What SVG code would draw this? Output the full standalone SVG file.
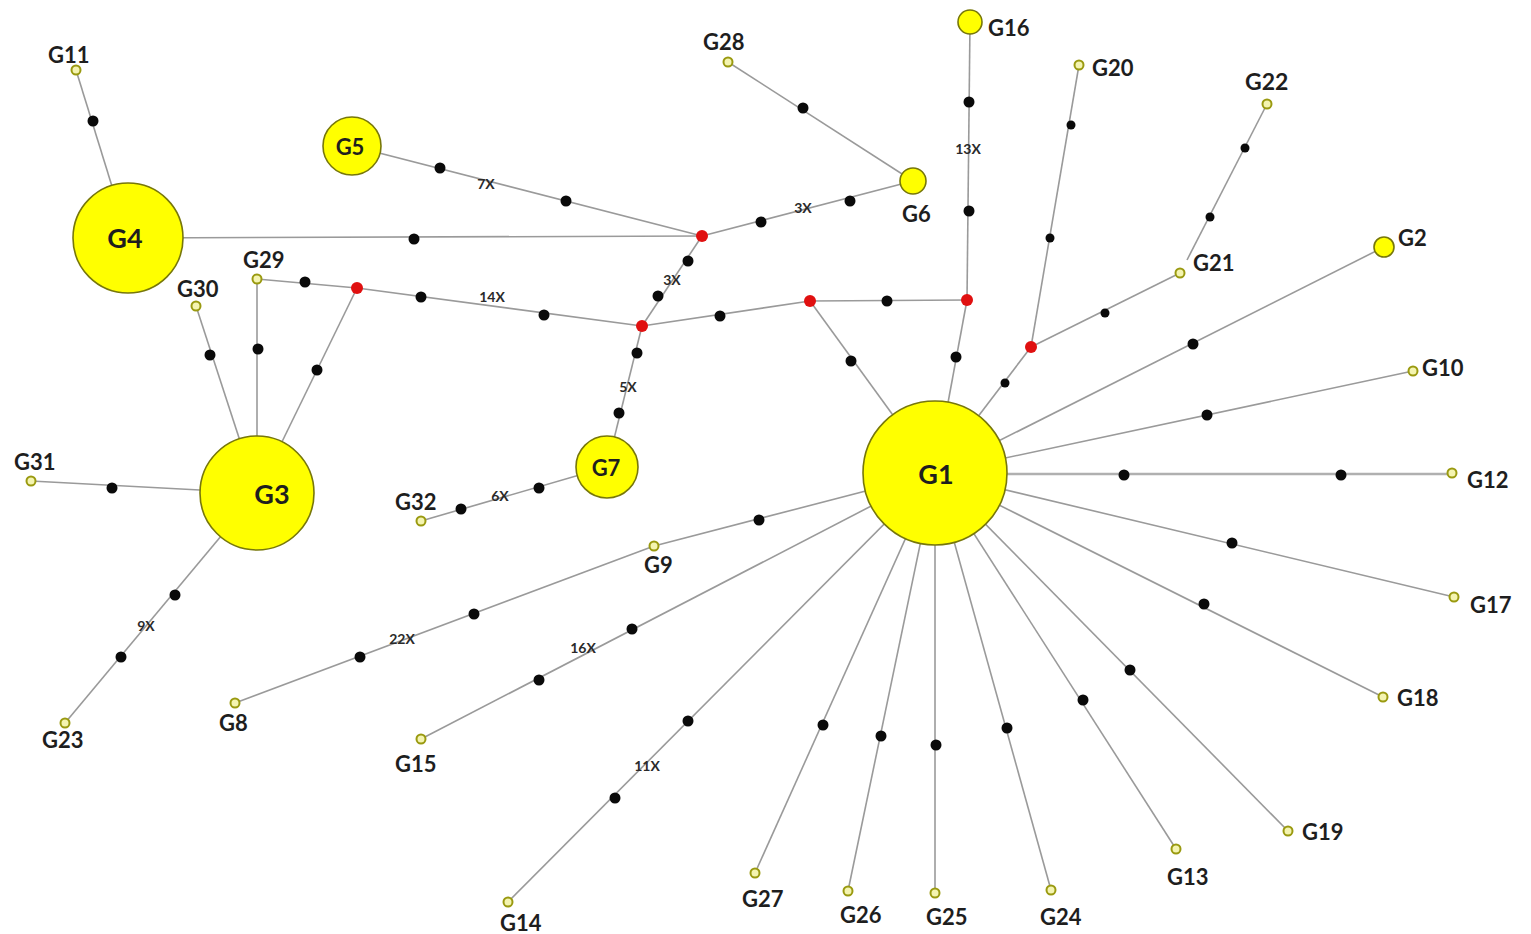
<svg xmlns="http://www.w3.org/2000/svg" width="1531" height="934" viewBox="0 0 1531 934">
  <style>
    .edge { stroke: #9a9a9a; stroke-width: 1.6; fill: none; }
    .hap { fill: #ffff00; stroke: #77770a; stroke-width: 1.6; }
    .tiny { fill: #f4f4b0; stroke: #9a9a10; stroke-width: 2; }
    .mut { fill: #0a0a0a; }
    .med { fill: #e01010; }
    .lbl { font-family: Lato, "Liberation Sans", sans-serif; font-weight: 700; font-size: 22px; fill: #1e1e1e; }
    .big { font-size: 27px; text-anchor: middle; }
    .cnt { font-family: Lato, "Liberation Sans", sans-serif; font-weight: 700; font-size: 14px; fill: #2a2a2a; text-anchor: middle; }
  </style>

  <!-- connectors -->
  <g id="edges">
    <line class="edge" x1="128" y1="238" x2="76" y2="70"/>
    <line class="edge" x1="128" y1="238" x2="702" y2="236"/>
    <line class="edge" x1="352" y1="146" x2="702" y2="236"/>
    <line class="edge" x1="702" y1="236" x2="913" y2="181"/>
    <line class="edge" x1="728" y1="62" x2="913" y2="181"/>
    <line class="edge" x1="702" y1="236" x2="642" y2="326"/>
    <line class="edge" x1="642" y1="326" x2="607" y2="467"/>
    <line class="edge" x1="607" y1="467" x2="421" y2="521"/>
    <line class="edge" x1="257" y1="279" x2="357" y2="288"/>
    <line class="edge" x1="357" y1="288" x2="642" y2="326"/>
    <line class="edge" x1="642" y1="326" x2="810" y2="301"/>
    <line class="edge" x1="810" y1="301" x2="967" y2="300"/>
    <line class="edge" x1="970" y1="22" x2="967" y2="300"/>
    <line class="edge" x1="810" y1="301" x2="935" y2="473"/>
    <line class="edge" x1="967" y1="300" x2="935" y2="473"/>
    <line class="edge" x1="1031" y1="347" x2="935" y2="473"/>
    <line class="edge" x1="1031" y1="347" x2="1079" y2="65"/>
    <line class="edge" x1="1031" y1="347" x2="1180" y2="273"/>
    <line class="edge" x1="1187" y1="260" x2="1267" y2="104"/>
    <!-- haplotype G3 star -->
    <line class="edge" x1="257" y1="493" x2="357" y2="288"/>
    <line class="edge" x1="257" y1="493" x2="257" y2="279"/>
    <line class="edge" x1="257" y1="493" x2="196" y2="306"/>
    <line class="edge" x1="257" y1="493" x2="31" y2="481"/>
    <line class="edge" x1="257" y1="493" x2="65" y2="723"/>
    <!-- haplotype G1 star -->
    <line class="edge" x1="935" y1="473" x2="1384" y2="247"/>
    <line class="edge" x1="935" y1="473" x2="1413" y2="371"/>
    <line class="edge" x1="935" y1="474" x2="1452" y2="474" style="stroke-width:2.4;stroke:#b0b0b0"/>
    <line class="edge" x1="935" y1="473" x2="1454" y2="597"/>
    <line class="edge" x1="935" y1="473" x2="1383" y2="697"/>
    <line class="edge" x1="935" y1="473" x2="1288" y2="831"/>
    <line class="edge" x1="935" y1="473" x2="1176" y2="849"/>
    <line class="edge" x1="935" y1="473" x2="1051" y2="890"/>
    <line class="edge" x1="935" y1="473" x2="935" y2="893"/>
    <line class="edge" x1="935" y1="473" x2="848" y2="891"/>
    <line class="edge" x1="935" y1="473" x2="755" y2="873"/>
    <line class="edge" x1="935" y1="473" x2="508" y2="902"/>
    <line class="edge" x1="935" y1="473" x2="421" y2="739"/>
    <line class="edge" x1="935" y1="473" x2="654" y2="546"/>
    <line class="edge" x1="654" y1="546" x2="235" y2="703"/>
  </g>

  <!-- mutation steps -->
  <g id="mutations">
    <circle class="mut" cx="93" cy="121" r="5.5"/>
    <circle class="mut" cx="414" cy="239" r="5.5"/>
    <circle class="mut" cx="440" cy="168" r="5.5"/>
    <circle class="mut" cx="566" cy="201" r="5.5"/>
    <circle class="mut" cx="761" cy="222" r="5.5"/>
    <circle class="mut" cx="850" cy="201" r="5.5"/>
    <circle class="mut" cx="803" cy="108" r="5.5"/>
    <circle class="mut" cx="969" cy="102" r="5.5"/>
    <circle class="mut" cx="969" cy="211" r="5.5"/>
    <circle class="mut" cx="688" cy="261" r="5.5"/>
    <circle class="mut" cx="658" cy="296" r="5.5"/>
    <circle class="mut" cx="305" cy="282" r="5.5"/>
    <circle class="mut" cx="421" cy="297" r="5.5"/>
    <circle class="mut" cx="544" cy="315" r="5.5"/>
    <circle class="mut" cx="720" cy="316" r="5.5"/>
    <circle class="mut" cx="887" cy="301" r="5.5"/>
    <circle class="mut" cx="851" cy="361" r="5.5"/>
    <circle class="mut" cx="956" cy="357" r="5.5"/>
    <circle class="mut" cx="637" cy="353" r="5.5"/>
    <circle class="mut" cx="619" cy="413" r="5.5"/>
    <circle class="mut" cx="539" cy="488" r="5.5"/>
    <circle class="mut" cx="461" cy="509" r="5.5"/>
    <circle class="mut" cx="317" cy="370" r="5.5"/>
    <circle class="mut" cx="258" cy="349" r="5.5"/>
    <circle class="mut" cx="210" cy="355" r="5.5"/>
    <circle class="mut" cx="112" cy="488" r="5.5"/>
    <circle class="mut" cx="175" cy="595" r="5.5"/>
    <circle class="mut" cx="121" cy="657" r="5.5"/>
    <circle class="mut" cx="1005" cy="383" r="4.5"/>
    <circle class="mut" cx="1050" cy="238" r="4.5"/>
    <circle class="mut" cx="1071" cy="125" r="4.5"/>
    <circle class="mut" cx="1105" cy="313" r="4.5"/>
    <circle class="mut" cx="1210" cy="217" r="4.5"/>
    <circle class="mut" cx="1245" cy="148" r="4.5"/>
    <circle class="mut" cx="1193" cy="344" r="5.5"/>
    <circle class="mut" cx="1207" cy="415" r="5.5"/>
    <circle class="mut" cx="1124" cy="475" r="5.5"/>
    <circle class="mut" cx="1341" cy="475" r="5.5"/>
    <circle class="mut" cx="1232" cy="543" r="5.5"/>
    <circle class="mut" cx="1204" cy="604" r="5.5"/>
    <circle class="mut" cx="1130" cy="670" r="5.5"/>
    <circle class="mut" cx="1083" cy="700" r="5.5"/>
    <circle class="mut" cx="1007" cy="728" r="5.5"/>
    <circle class="mut" cx="936" cy="745" r="5.5"/>
    <circle class="mut" cx="881" cy="736" r="5.5"/>
    <circle class="mut" cx="823" cy="725" r="5.5"/>
    <circle class="mut" cx="688" cy="721" r="5.5"/>
    <circle class="mut" cx="615" cy="798" r="5.5"/>
    <circle class="mut" cx="632" cy="629" r="5.5"/>
    <circle class="mut" cx="539" cy="680" r="5.5"/>
    <circle class="mut" cx="759" cy="520" r="5.5"/>
    <circle class="mut" cx="474" cy="614" r="5.5"/>
    <circle class="mut" cx="360" cy="657" r="5.5"/>
  </g>

  <!-- median vectors -->
  <g id="medians">
    <circle id="mv1" class="med" cx="702" cy="236" r="6"/>
    <circle id="mv2" class="med" cx="357" cy="288" r="6"/>
    <circle id="mv3" class="med" cx="642" cy="326" r="6"/>
    <circle id="mv4" class="med" cx="810" cy="301" r="6"/>
    <circle id="mv5" class="med" cx="967" cy="300" r="6"/>
    <circle id="mv6" class="med" cx="1031" cy="347" r="6"/>
  </g>

  <!-- step counts -->
  <g id="step-counts">
    <text class="cnt" x="486" y="189">7X</text>
    <text class="cnt" x="803" y="213">3X</text>
    <text class="cnt" x="968" y="154">13X</text>
    <text class="cnt" x="672" y="285">3X</text>
    <text class="cnt" x="492" y="302">14X</text>
    <text class="cnt" x="628" y="392">5X</text>
    <text class="cnt" x="500" y="501">6X</text>
    <text class="cnt" x="146" y="631">9X</text>
    <text class="cnt" x="402" y="644">22X</text>
    <text class="cnt" x="583" y="653">16X</text>
    <text class="cnt" x="647" y="771">11X</text>
  </g>

  <!-- haplotypes -->
  <g id="G1"><circle class="hap" cx="935" cy="473" r="72"/><text class="lbl big" x="936" y="484">G1</text></g>
  <g id="G2"><circle class="hap" cx="1384" cy="247" r="10"/><text class="lbl" x="1398" y="246">G2</text></g>
  <g id="G3"><circle class="hap" cx="257" cy="493" r="57"/><text class="lbl big" x="272" y="504">G3</text></g>
  <g id="G4"><circle class="hap" cx="128" cy="238" r="55"/><text class="lbl big" x="125" y="248">G4</text></g>
  <g id="G5"><circle class="hap" cx="352" cy="146" r="29"/><text class="lbl" x="350" y="155" text-anchor="middle">G5</text></g>
  <g id="G6"><circle class="hap" cx="913" cy="181" r="13"/><text class="lbl" x="902" y="222">G6</text></g>
  <g id="G7"><circle class="hap" cx="607" cy="467" r="31"/><text class="lbl" x="606" y="476" text-anchor="middle">G7</text></g>
  <g id="G8"><circle class="tiny" cx="235" cy="703" r="4.5"/><text class="lbl" x="219" y="731">G8</text></g>
  <g id="G9"><circle class="tiny" cx="654" cy="546" r="4.5"/><text class="lbl" x="644" y="573">G9</text></g>
  <g id="G10"><circle class="tiny" cx="1413" cy="371" r="4.5"/><text class="lbl" x="1422" y="376">G10</text></g>
  <g id="G11"><circle class="tiny" cx="76" cy="70" r="4.5"/><text class="lbl" x="48" y="63">G11</text></g>
  <g id="G12"><circle class="tiny" cx="1452" cy="473" r="4.5"/><text class="lbl" x="1467" y="488">G12</text></g>
  <g id="G13"><circle class="tiny" cx="1176" cy="849" r="4.5"/><text class="lbl" x="1167" y="885">G13</text></g>
  <g id="G14"><circle class="tiny" cx="508" cy="902" r="4.5"/><text class="lbl" x="500" y="931">G14</text></g>
  <g id="G15"><circle class="tiny" cx="421" cy="739" r="4.5"/><text class="lbl" x="395" y="772">G15</text></g>
  <g id="G16"><circle class="hap" cx="970" cy="22" r="12"/><text class="lbl" x="988" y="36">G16</text></g>
  <g id="G17"><circle class="tiny" cx="1454" cy="597" r="4.5"/><text class="lbl" x="1470" y="613">G17</text></g>
  <g id="G18"><circle class="tiny" cx="1383" cy="697" r="4.5"/><text class="lbl" x="1397" y="706">G18</text></g>
  <g id="G19"><circle class="tiny" cx="1288" cy="831" r="4.5"/><text class="lbl" x="1302" y="840">G19</text></g>
  <g id="G20"><circle class="tiny" cx="1079" cy="65" r="4.5"/><text class="lbl" x="1092" y="76">G20</text></g>
  <g id="G21"><circle class="tiny" cx="1180" cy="273" r="4.5"/><text class="lbl" x="1193" y="271">G21</text></g>
  <g id="G22"><circle class="tiny" cx="1267" cy="104" r="4.5"/><text class="lbl" x="1245" y="90" style="font-size:23px">G22</text></g>
  <g id="G23"><circle class="tiny" cx="65" cy="723" r="4.5"/><text class="lbl" x="42" y="748">G23</text></g>
  <g id="G24"><circle class="tiny" cx="1051" cy="890" r="4.5"/><text class="lbl" x="1040" y="925">G24</text></g>
  <g id="G25"><circle class="tiny" cx="935" cy="893" r="4.5"/><text class="lbl" x="926" y="925">G25</text></g>
  <g id="G26"><circle class="tiny" cx="848" cy="891" r="4.5"/><text class="lbl" x="840" y="923">G26</text></g>
  <g id="G27"><circle class="tiny" cx="755" cy="873" r="4.5"/><text class="lbl" x="742" y="907">G27</text></g>
  <g id="G28"><circle class="tiny" cx="728" cy="62" r="4.5"/><text class="lbl" x="703" y="50">G28</text></g>
  <g id="G29"><circle class="tiny" cx="257" cy="279" r="4.5"/><text class="lbl" x="243" y="268">G29</text></g>
  <g id="G30"><circle class="tiny" cx="196" cy="306" r="4.5"/><text class="lbl" x="177" y="297">G30</text></g>
  <g id="G31"><circle class="tiny" cx="31" cy="481" r="4.5"/><text class="lbl" x="14" y="470">G31</text></g>
  <g id="G32"><circle class="tiny" cx="421" cy="521" r="4.5"/><text class="lbl" x="395" y="510">G32</text></g>
</svg>
